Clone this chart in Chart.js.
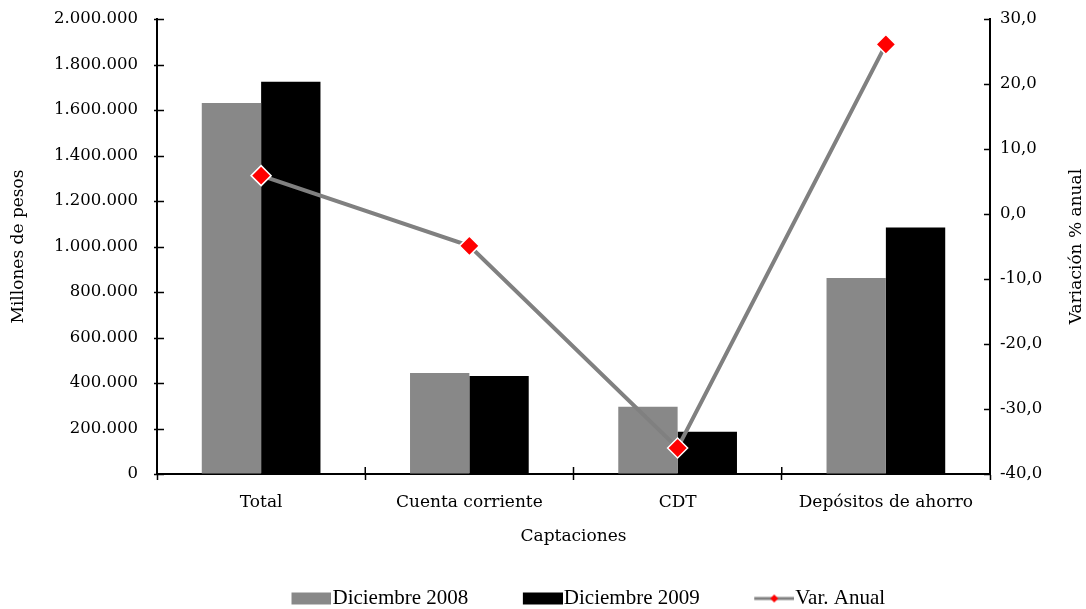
<!DOCTYPE html>
<html>
<head>
<meta charset="utf-8">
<script src="https://cdn.jsdelivr.net/npm/chart.js@4"></script>
<style>
  html, body { margin: 0; padding: 0; background: #fff; }
  #wrap { width: 1086px; height: 609px; position: relative; }
</style>
</head>
<body>
<div id="wrap"><canvas id="myChart"></canvas></div>
<script>
const categories = ['Total', 'Cuenta corriente', 'CDT', 'Depósitos de ahorro'];
const dic2008 = [1631000, 444000, 296000, 862000];
const dic2009 = [1724000, 431000, 186000, 1084000];
const varAnual = [5.9, -4.9, -36.0, 26.1];

const leftTicks = { min: 0, max: 2000000, step: 200000 };
const rightTicks = { min: -40, max: 30, step: 10 };
const rightTitle = 'Variación % anual';

const serif = "'DejaVu Serif', serif";

// legend swatches as small canvases (left part transparent = spacing)
function swatch(kind, color) {
    const c = document.createElement('canvas');
    c.width = 79; c.height = 14;
    const g = c.getContext('2d');
    if (kind === 'box') {
        g.fillStyle = color;
        g.fillRect(39, 1, 40, 12);
    } else {
        g.strokeStyle = '#808080';
        g.lineWidth = 3;
        g.beginPath(); g.moveTo(39, 7); g.lineTo(79, 7); g.stroke();
        g.fillStyle = '#ff0000';
        g.beginPath();
        g.moveTo(59, 3); g.lineTo(63, 7); g.lineTo(59, 11); g.lineTo(55, 7);
        g.closePath(); g.fill();
    }
    return c;
}
const legendIcons = [swatch('box', '#888888'), swatch('box', '#000000'), swatch('line')];

function thousands(v) {
    return String(Math.round(v)).replace(/\B(?=(\d{3})+(?!\d))/g, '.');
}

// "cross" tick marks on the value axes + right title read bottom to top
const extras = {
    id: 'extras',
    afterDraw(chart) {
        const ctx = chart.ctx;
        const a = chart.chartArea;
        ctx.save();
        ctx.strokeStyle = '#000';
        ctx.lineWidth = 1.5;
        ctx.beginPath();
        const y = chart.scales.y;
        y.ticks.forEach((t, i) => {
            const p = Math.round(y.getPixelForTick(i)) + 0.5;
            ctx.moveTo(a.left - 3, p); ctx.lineTo(a.left + 7, p);
        });
        const y1 = chart.scales.y1;
        y1.ticks.forEach((t, i) => {
            const p = Math.round(y1.getPixelForTick(i)) + 0.5;
            ctx.moveTo(a.right + 1, p); ctx.lineTo(a.right - 6, p);
        });
        for (let i = 0; i <= categories.length; i++) {
            const p = a.left + i * (a.right - a.left) / categories.length;
            ctx.moveTo(p, a.bottom); ctx.lineTo(p, a.bottom - 7);
        }
        ctx.stroke();

        ctx.translate(1077, (a.top + a.bottom) / 2);
        ctx.rotate(-Math.PI / 2);
        ctx.fillStyle = '#000';
        ctx.font = "17px 'DejaVu Serif', serif";
        ctx.textAlign = 'center';
        ctx.textBaseline = 'middle';
        ctx.fillText(rightTitle, 0, 0);
        ctx.restore();
    }
};

const ctx = document.getElementById('myChart');
new Chart(ctx, {
    data: {
        labels: categories,
        datasets: [{
            type: 'line',
            label: 'Var. Anual',
            data: varAnual,
            yAxisID: 'y1',
            borderColor: '#808080',
            borderWidth: 4,
            pointStyle: 'rectRot',
            pointRadius: 10,
            pointBackgroundColor: '#ff0000',
            pointBorderColor: '#ffffff',
            pointBorderWidth: 1.5,
            order: 0
        }, {
            type: 'bar',
            label: 'Diciembre 2008',
            data: dic2008,
            yAxisID: 'y',
            backgroundColor: '#888888',
            order: 1
        }, {
            type: 'bar',
            label: 'Diciembre 2009',
            data: dic2009,
            yAxisID: 'y',
            backgroundColor: '#000000',
            order: 1
        }]
    },
    options: {
        responsive: true,
        maintainAspectRatio: false,
        animation: false,
        layout: { padding: { top: 19, left: 0, right: 0, bottom: -10 } },
        datasets: {
            bar: { categoryPercentage: 0.57, barPercentage: 1 }
        },
        scales: {
            x: {
                grid: { offset: true, drawOnChartArea: false, tickLength: 6, tickColor: '#000', tickWidth: 1.5 },
                border: { color: '#000', width: 2 },
                ticks: { color: '#000', padding: 12, font: { family: serif, size: 17 }, maxRotation: 0 },
                title: { display: true, text: 'Captaciones', color: '#000', font: { family: serif, size: 17 }, padding: { top: 4, bottom: 16 } },
                afterFit(s) { s.height = 89; }
            },
            y: {
                position: 'left',
                min: leftTicks.min, max: leftTicks.max,
                grid: { drawOnChartArea: false, tickLength: 17, tickColor: 'rgba(0,0,0,0)' },
                border: { color: '#000', width: 2 },
                ticks: {
                    stepSize: leftTicks.step, color: '#000', padding: 2,
                    font: { family: serif, size: 16.5 },
                    callback: v => thousands(v)
                },
                title: { display: true, text: 'Millones de pesos', color: '#000', font: { family: serif, size: 17 }, padding: { top: 8, bottom: 0 } },
                afterFit(s) { s.width = 157; }
            },
            y1: {
                position: 'right',
                min: rightTicks.min, max: rightTicks.max,
                grid: { drawOnChartArea: false, tickLength: 8, tickColor: 'rgba(0,0,0,0)' },
                border: { color: '#000', width: 2 },
                ticks: {
                    stepSize: rightTicks.step, color: '#000', padding: 2,
                    font: { family: serif, size: 16.5 },
                    callback: v => v.toFixed(1).replace('.', ',')
                },
                title: { display: false },
                afterFit(s) { s.width = 96; }
            }
        },
        plugins: {
            tooltip: { enabled: false },
            legend: {
                position: 'bottom',
                fullSize: false,
                labels: {
                    usePointStyle: true,
                    pointStyleWidth: 60,
                    padding: 25,
                    color: '#000',
                    font: { family: "'Liberation Serif', serif", size: 21 },
                    sort: (a, b) => a.datasetIndex === 0 ? 1 : (b.datasetIndex === 0 ? -1 : a.datasetIndex - b.datasetIndex),
                    generateLabels(chart) {
                        const items = Chart.defaults.plugins.legend.labels.generateLabels(chart);
                        items.forEach(it => {
                            it.pointStyle = legendIcons[it.datasetIndex === 0 ? 2 : it.datasetIndex - 1];
                        });
                        return items;
                    }
                }
            }
        }
    },
    plugins: [extras]
});
</script>
</body>
</html>
